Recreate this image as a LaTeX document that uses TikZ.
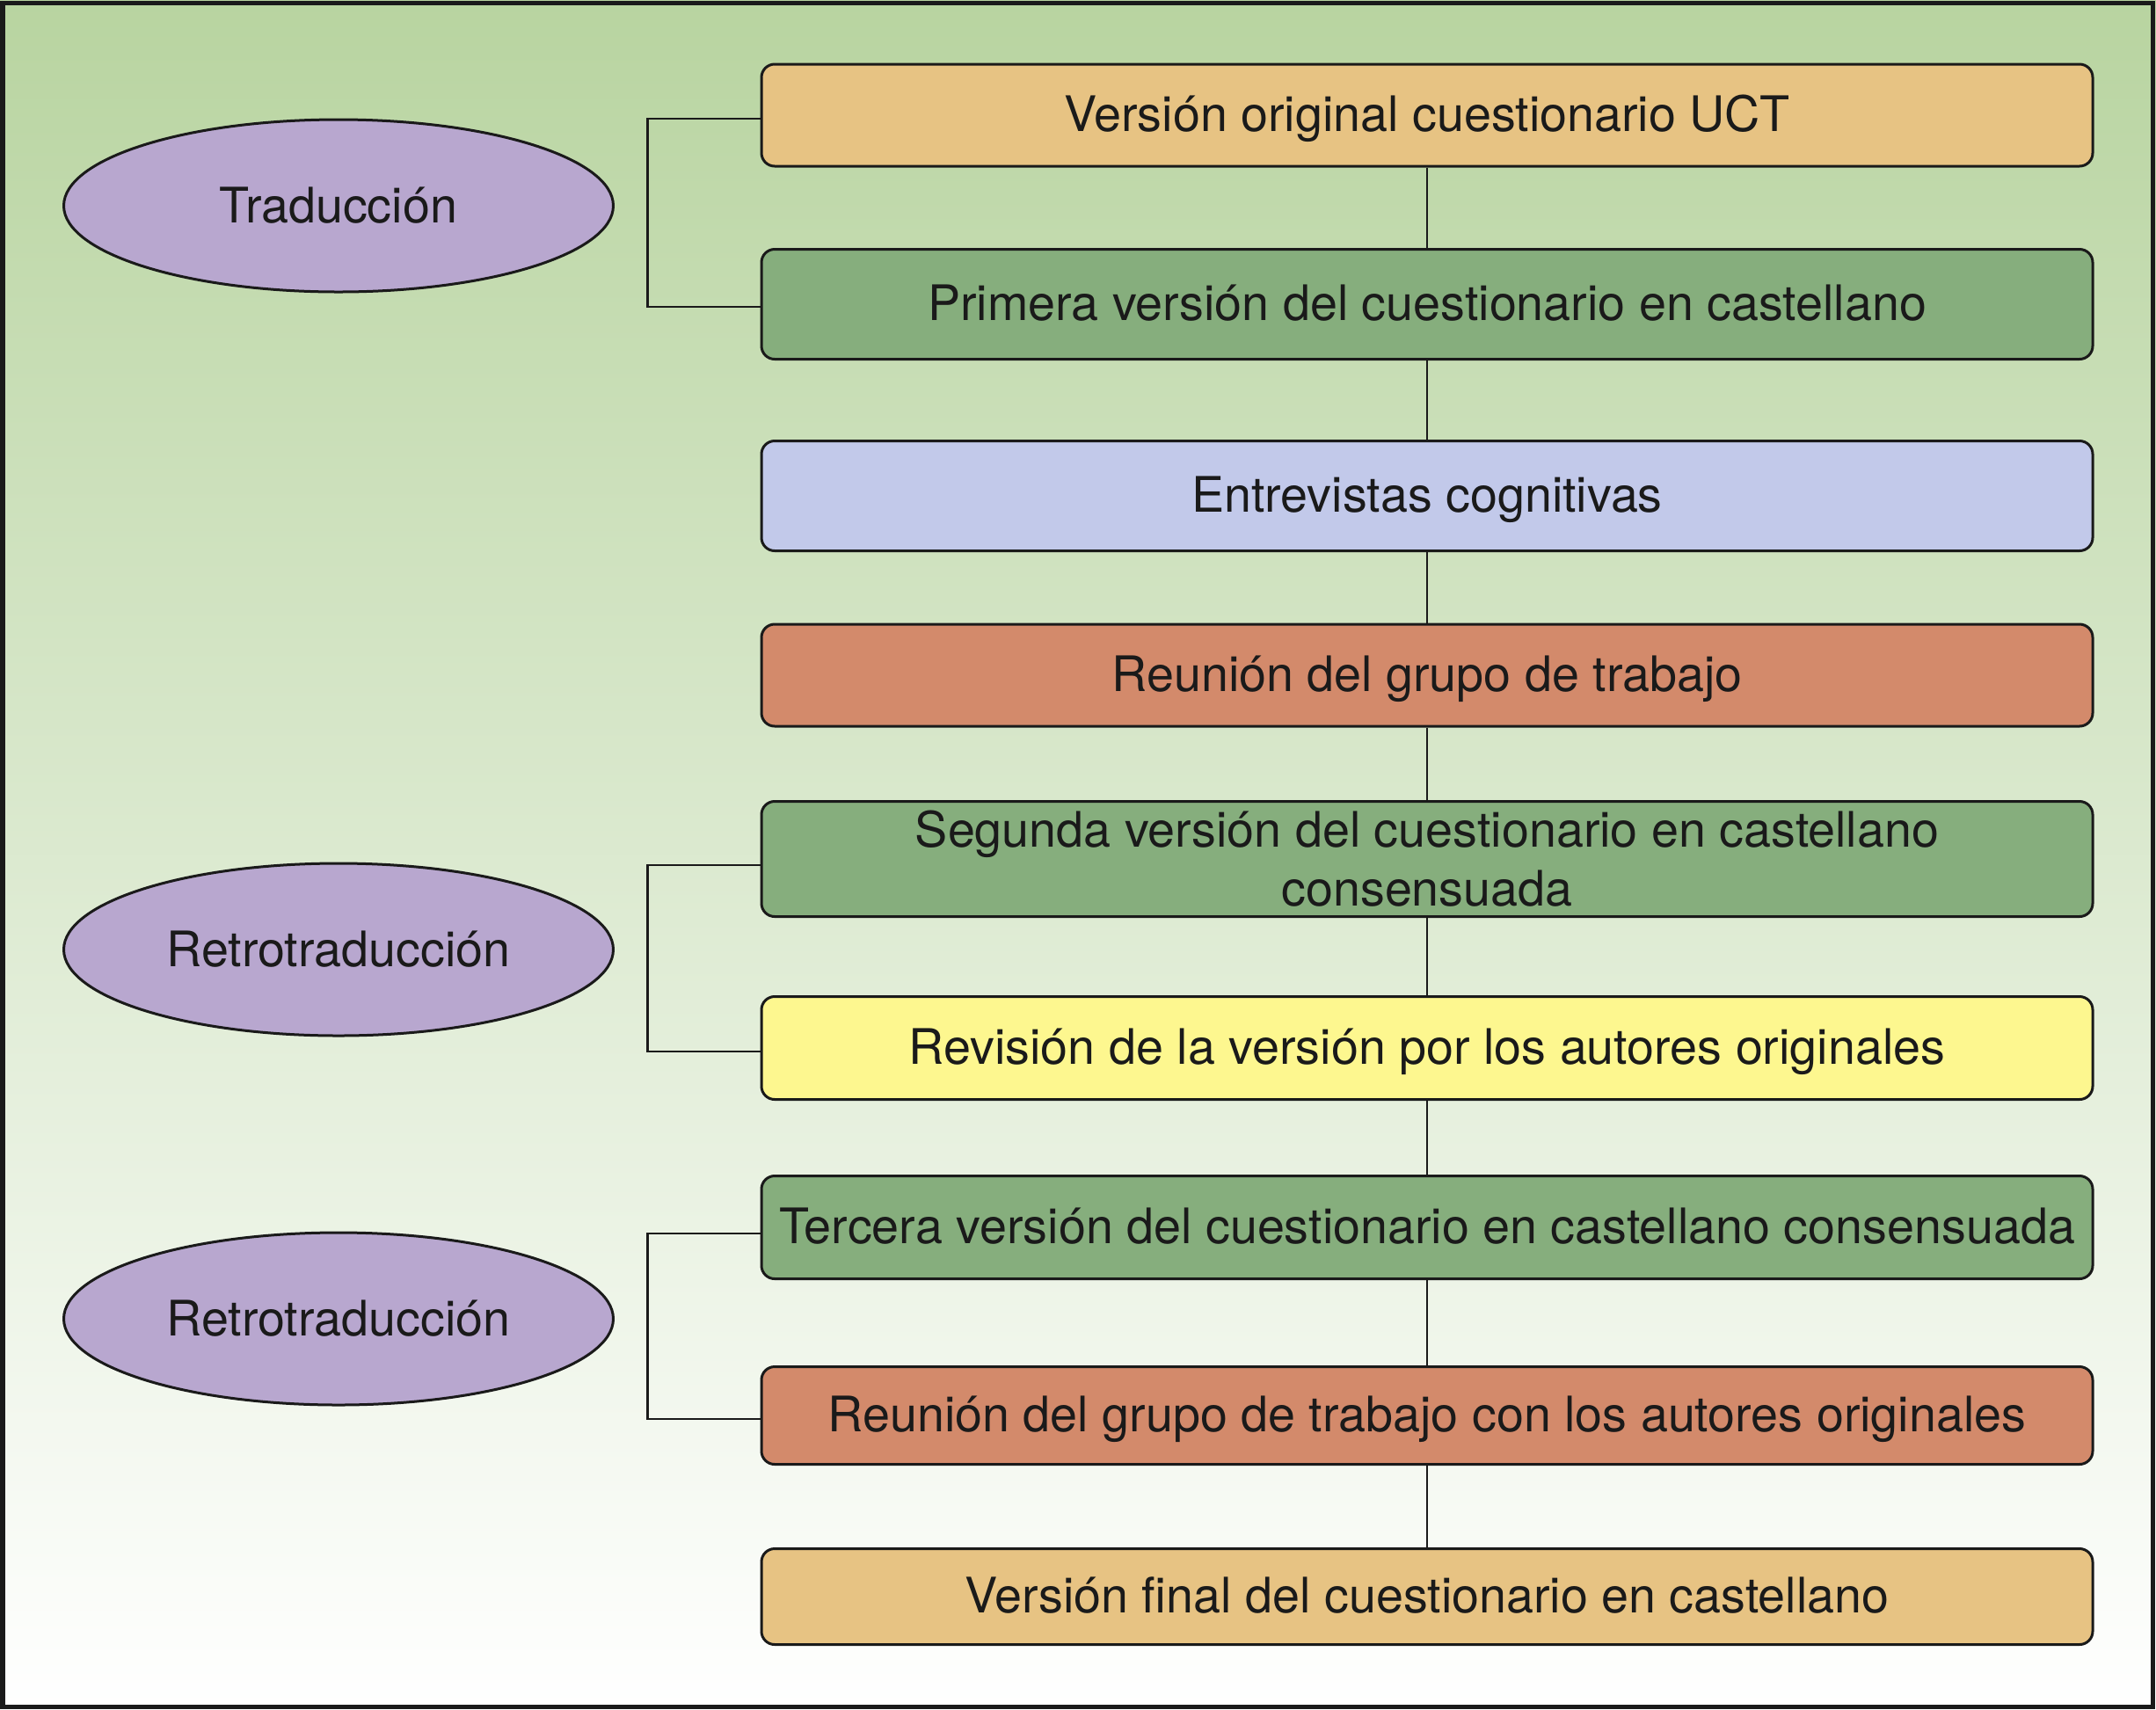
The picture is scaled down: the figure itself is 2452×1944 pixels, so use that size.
\documentclass[tikz,border=0pt]{standalone}
\usepackage{fontspec}
\setmainfont{TeX Gyre Heros}
\usetikzlibrary{shapes.geometric}
\definecolor{bgtop}{HTML}{B8D4A0}
\definecolor{bgbot}{HTML}{FFFFFF}
\definecolor{tanbox}{HTML}{E7C383}
\definecolor{greenbox}{HTML}{86AE7D}
\definecolor{bluebox}{HTML}{C2C9EA}
\definecolor{salmonbox}{HTML}{D38A6B}
\definecolor{yellowbox}{HTML}{FDF78F}
\definecolor{lavfill}{HTML}{B8A7CF}
\definecolor{txt}{HTML}{1A1A1A}
\begin{document}
\begin{tikzpicture}[x=0.3pt,y=-0.3pt,
  stepbox/.style={draw=txt, line width=0.9pt, rounded corners=4.5pt, minimum width=454.2pt,
    inner sep=0pt, align=center, text=txt, font=\fontsize{16.7}{20.1}\selectfont},
  oneline/.style={text height=12pt, text depth=0.8pt},
  phase/.style={ellipse, draw=txt, line width=0.9pt, fill=lavfill, minimum width=187.5pt,
    minimum height=58.8pt, inner sep=0pt, text=txt, font=\fontsize{16.7}{20.1}\selectfont},
  link/.style={draw=txt, line width=0.65pt}]
\useasboundingbox (0,0) rectangle (2452,1944);
\shade[top color=bgtop, bottom color=bgbot] (0,0) rectangle (2452,1944);
\draw[txt, line width=1.5pt] (3,3) rectangle (2448,1941);

\node[stepbox, oneline, fill=tanbox, minimum height=34.8pt] (b1) at (1623,131) {Versión original cuestionario UCT};
\node[stepbox, oneline, fill=greenbox, minimum height=37.5pt] (b2) at (1623,346) {Primera versión del cuestionario en castellano};
\node[stepbox, oneline, fill=bluebox, minimum height=37.5pt] (b3) at (1623,564) {Entrevistas cognitivas};
\node[stepbox, oneline, fill=salmonbox, minimum height=34.8pt] (b4) at (1623,768) {Reunión del grupo de trabajo};
\node[stepbox, fill=greenbox, minimum height=39.3pt] (b5) at (1623,977) {Segunda versión del cuestionario en castellano\\consensuada};
\node[stepbox, oneline, fill=yellowbox, minimum height=35.1pt] (b6) at (1623,1192) {Revisión de la versión por los autores originales};
\node[stepbox, oneline, fill=greenbox, minimum height=35.1pt] (b7) at (1623,1396) {Tercera versión del cuestionario en castellano consensuada};
\node[stepbox, oneline, fill=salmonbox, minimum height=33.3pt] (b8) at (1623,1610) {Reunión del grupo de trabajo con los autores originales};
\node[stepbox, oneline, fill=tanbox, minimum height=32.7pt] (b9) at (1623,1816) {Versión final del cuestionario en castellano};

\foreach \a/\b in {b1/b2,b2/b3,b3/b4,b4/b5,b5/b6,b6/b7,b7/b8,b8/b9}
  \draw[link] (\a) -- (\b);

\draw[link] ([yshift=-1.3pt]b1.west) -- ++(-128,0) |- ([yshift=-1pt]b2.west);
\draw[link] ([yshift=-2pt]b5.west) -- ++(-128,0) |- ([yshift=-1.2pt]b6.west);
\draw[link] ([yshift=-2pt]b7.west) -- ++(-128,0) |- ([yshift=-1.2pt]b8.west);

\node[phase] (e1) at (385,234) {Traducción};
\node[phase] (e2) at (385,1080) {Retrotraducción};
\node[phase] (e3) at (385,1500) {Retrotraducción};
\end{tikzpicture}
\end{document}
